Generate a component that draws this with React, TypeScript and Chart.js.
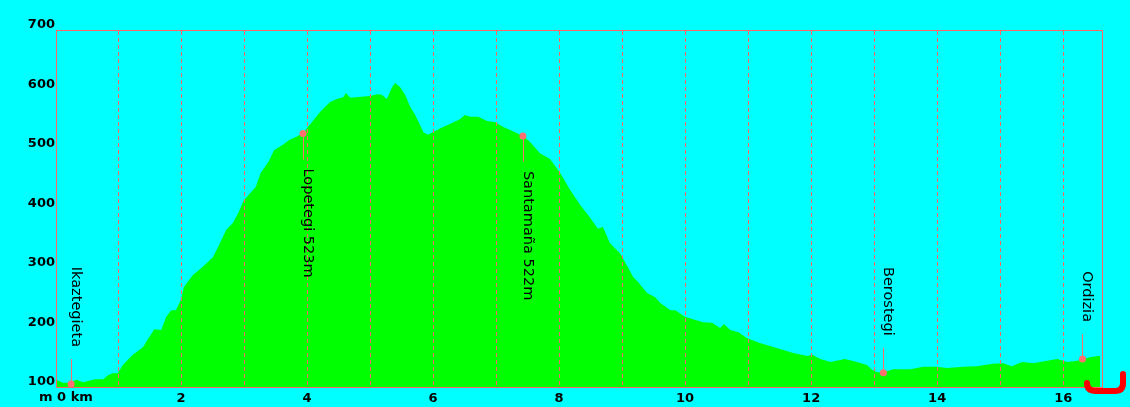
import React, { useEffect, useRef } from 'react';
import { Chart, registerables } from 'chart.js';

Chart.register(...registerables);

// Elevation profile (distance in km, elevation in m)
const distanceKm = [
  0.0, 0.11, 0.24, 0.32, 0.43, 0.63, 0.75, 0.83, 0.9, 0.98,
  1.06, 1.22, 1.38, 1.48, 1.56, 1.67, 1.75, 1.83, 1.9, 1.98,
  2.03, 2.17, 2.33, 2.49, 2.59, 2.7, 2.81, 2.9, 2.98, 3.06,
  3.17, 3.25, 3.37, 3.46, 3.6, 3.7, 3.81, 3.92, 4.02, 4.13,
  4.19, 4.35, 4.46, 4.56, 4.6, 4.67, 4.75, 4.98, 5.1, 5.17,
  5.25, 5.33, 5.38, 5.46, 5.54, 5.62, 5.7, 5.78, 5.83, 5.9,
  5.98, 6.1, 6.25, 6.41, 6.49, 6.57, 6.7, 6.84, 6.97, 7.1,
  7.25, 7.41, 7.52, 7.68, 7.84, 8.0, 8.16, 8.32, 8.48, 8.6,
  8.68, 8.79, 8.95, 9.03, 9.16, 9.24, 9.38, 9.51, 9.59, 9.75,
  9.83, 9.98, 10.11, 10.27, 10.41, 10.54, 10.6, 10.7, 10.83, 10.97,
  11.17, 11.33, 11.49, 11.7, 11.92, 12.0, 12.13, 12.29, 12.52, 12.71,
  12.87, 12.95, 13.03, 13.13, 13.29, 13.56, 13.76, 13.98, 14.14, 14.4,
  14.62, 14.87, 15.03, 15.17, 15.33, 15.51, 15.73, 15.89, 16.05, 16.21,
  16.41, 16.54, 16.57,
];
const elevationM = [
  112, 107, 107, 112, 108, 113, 113, 120, 123, 123,
  137, 154, 167, 184, 197, 196, 218, 229, 229, 246,
  268, 288, 302, 318, 339, 364, 376, 394, 414, 423,
  436, 460, 478, 498, 507, 515, 520, 527, 540, 554,
  562, 579, 584, 587, 594, 586, 587, 589, 592, 591,
  584, 603, 611, 604, 591, 571, 557, 540, 528, 524,
  528, 535, 542, 550, 557, 554, 554, 547, 545, 537,
  530, 522, 512, 493, 483, 460, 431, 406, 384, 366,
  369, 342, 325, 310, 285, 276, 258, 251, 241, 229,
  229, 218, 214, 209, 208, 199, 206, 196, 192, 182,
  174, 169, 164, 157, 152, 154, 147, 142, 147, 142,
  137, 129, 125, 125, 130, 130, 134, 134, 132, 134,
  135, 139, 140, 135, 142, 140, 144, 147, 142, 144,
  150, 152, 152,
];

// Waypoints
const markerNames = ['Ikaztegieta', 'Lopetegi 523m', 'Santamaña 522m', 'Berostegi', 'Ordizia'];
const markerKm = [0.24, 3.92, 7.41, 13.13, 16.29];
const markerElev = [105, 526, 522, 124, 147];
const markerSide = ['up', 'down', 'down', 'up', 'up'];

// Axes
const yTickValues = [100, 200, 300, 400, 500, 600, 700];
const xGridKm = [1, 2, 3, 4, 5, 6, 7, 8, 9, 10, 11, 12, 13, 14, 15, 16];
const xTickLabels = ['', '', '2', '', '4', '', '6', '', '8', '', '10', '', '12', '', '14', '', '16'];
const xOriginLabel = 'm 0 km';

const BG = '#00ffff';
const FILL = '#00ff00';
const GRID = '#ff6666';
const MARK = '#ff7070';
const FONT = '"DejaVu Sans", Verdana, sans-serif';

const overlayPlugin = {
  id: 'overlay',
  afterDatasetsDraw(chart: any) {
    const { ctx, chartArea, scales } = chart;
    const { left, top, right, bottom } = chartArea;
    const x = scales.x;
    ctx.save();
    // dashed vertical grid, on top of the fill
    ctx.strokeStyle = GRID;
    ctx.lineWidth = 1;
    ctx.setLineDash([4, 3]);
    xGridKm.forEach((k) => {
      const gx = Math.round(x.getPixelForValue(k)) - 0.5;
      ctx.beginPath();
      ctx.moveTo(gx, top + 1);
      ctx.lineTo(gx, bottom);
      ctx.stroke();
    });
    ctx.setLineDash([]);
    // frame
    ctx.strokeRect(left + 0.5, top + 0.5, right - left, bottom - top);
    ctx.restore();
  },
  afterDraw(chart: any) {
    const { ctx, chartArea, scales } = chart;
    const { left, bottom } = chartArea;
    const x = scales.x;
    const y = scales.y;
    ctx.save();
    // waypoint connectors & labels
    ctx.fillStyle = '#000';
    ctx.font = `14.5px ${FONT}`;
    markerNames.forEach((name, i) => {
      const px = x.getPixelForValue(markerKm[i]);
      const py = y.getPixelForValue(markerElev[i]);
      const lx = Math.round(px) + 0.5;
      const up = markerSide[i] === 'up';
      ctx.strokeStyle = MARK;
      ctx.lineWidth = 1;
      ctx.beginPath();
      ctx.moveTo(lx, py);
      ctx.lineTo(lx, up ? py - 25 : py + 26);
      ctx.stroke();
      ctx.save();
      ctx.translate(px + 4.5, up ? py - 37 : py + 35);
      ctx.rotate(Math.PI / 2);
      ctx.textAlign = up ? 'right' : 'left';
      ctx.textBaseline = 'middle';
      ctx.fillText(name, 0, 0);
      ctx.restore();
    });

    // origin label
    ctx.font = `bold 13px ${FONT}`;
    ctx.textAlign = 'left';
    ctx.textBaseline = 'middle';
    ctx.fillText(xOriginLabel, left - 17, bottom + 11);

    // end-of-route hook
    ctx.strokeStyle = '#ff0000';
    ctx.lineWidth = 6;
    ctx.lineCap = 'round';
    ctx.lineJoin = 'round';
    ctx.beginPath();
    ctx.moveTo(1087, 383);
    ctx.quadraticCurveTo(1087, 391, 1096, 391);
    ctx.lineTo(1115, 391);
    ctx.quadraticCurveTo(1123, 391, 1123, 383);
    ctx.lineTo(1123, 374);
    ctx.stroke();
    ctx.restore();
  },
};

export default function App() {
  const ref = useRef<HTMLCanvasElement | null>(null);

  useEffect(() => {
    if (!ref.current) return;
    const profile = distanceKm.map((d, i) => ({ x: d, y: elevationM[i] }));
    const markers = markerKm.map((d, i) => ({ x: d, y: markerElev[i] }));
    const chart = new Chart(ref.current, {
      type: 'line',
      data: {
        datasets: [
          {
            label: 'waypoints',
            data: markers,
            showLine: false,
            pointRadius: 3.5,
            pointBackgroundColor: MARK,
            pointBorderWidth: 0,
            clip: false,
          } as any,
          {
            label: 'profile',
            data: profile,
            fill: 'start',
            backgroundColor: FILL,
            borderWidth: 0,
            borderColor: FILL,
            pointRadius: 0,
            tension: 0,
          },
        ],
      },
      options: {
        animation: false,
        responsive: false,
        devicePixelRatio: 1,
        layout: { padding: { left: 0, top: 30, right: 28, bottom: 0 } },
        plugins: { legend: { display: false }, tooltip: { enabled: false } },
        scales: {
          x: {
            type: 'linear',
            min: 0,
            max: 16.6,
            grid: { display: false, drawTicks: false },
            border: { display: false },
            ticks: {
              stepSize: 1,
              includeBounds: false,
              autoSkip: false,
              maxRotation: 0,
              padding: 4,
              labelOffset: -1,
              color: '#000',
              font: { family: FONT, size: 13, weight: 'bold' },
              callback: (v: any) => xTickLabels[Math.round(Number(v))] ?? '',
            },
            afterFit: (s: any) => {
              s.height = 20;
            },
          },
          y: {
            type: 'linear',
            min: 100,
            max: 700,
            grid: { display: false, drawTicks: false },
            border: { display: false },
            afterBuildTicks: (s: any) => {
              s.ticks = yTickValues.map((v) => ({ value: v }));
            },
            ticks: {
              padding: 1,
              labelOffset: -5,
              color: '#000',
              font: { family: FONT, size: 13, weight: 'bold' },
            },
            afterFit: (s: any) => {
              s.width = 56;
            },
          },
        },
      } as any,
      plugins: [overlayPlugin],
    });
    return () => chart.destroy();
  }, []);

  return (
    <div
      style={{
        position: 'fixed',
        left: 0,
        top: 0,
        width: 1130,
        height: 407,
        background: BG,
        overflow: 'hidden',
      }}
    >
      <canvas ref={ref} width={1130} height={407} style={{ display: 'block', width: 1130, height: 407 }} />
    </div>
  );
}
